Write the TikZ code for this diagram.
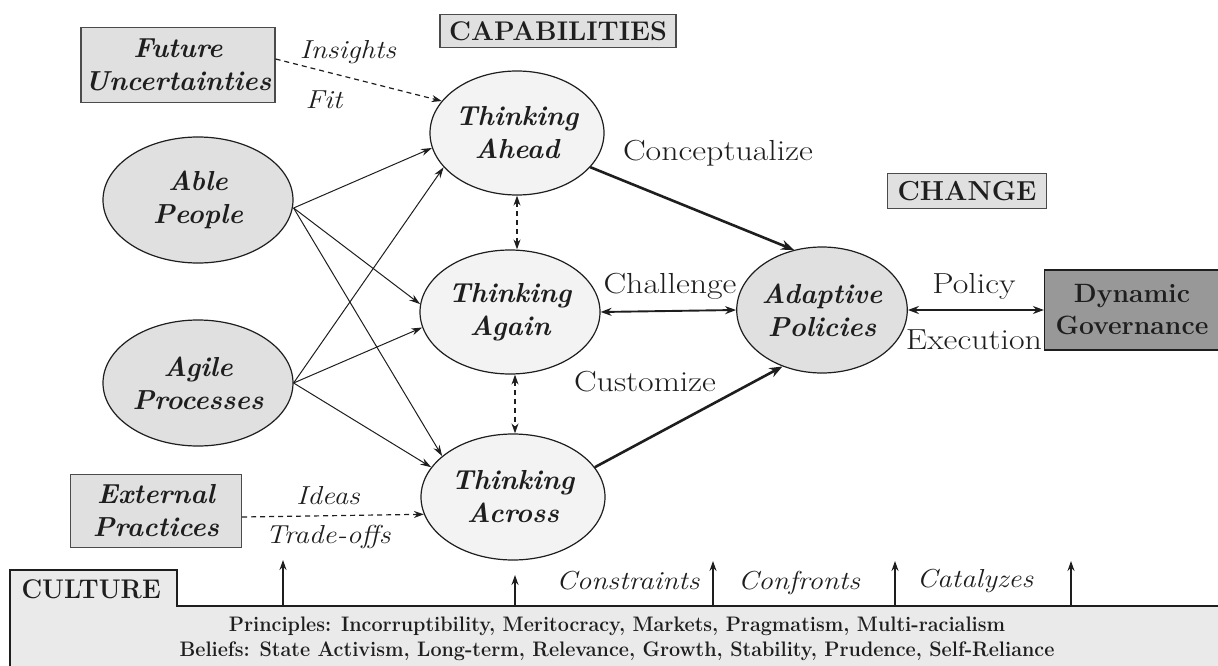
\documentclass[tikz,border=0pt]{standalone}
\usetikzlibrary{shapes.geometric,arrows.meta,calc}
\definecolor{boxgray}{HTML}{E0E0E0}
\definecolor{lightfill}{HTML}{F3F3F3}
\definecolor{darkfill}{HTML}{989898}
\definecolor{basefill}{HTML}{EAEAEA}
\definecolor{ink}{HTML}{1E1E1E}
\newcommand{\wideR}[1]{\scalebox{1.17}[1]{#1}}
\newcommand{\wideI}[1]{\scalebox{1.12}[1]{#1}}
\newcommand{\narrowB}[1]{\scalebox{0.94}[1]{#1}}
\begin{document}
\begin{tikzpicture}[x=1pt,y=-1pt,
  every node/.style={text=ink},
  heavy/.style={font=\fontsize{27.5}{33}\selectfont\bfseries\itshape, align=center},
  ovalA/.style={ellipse, draw=ink, line width=1.2pt, fill=boxgray, inner sep=0pt, heavy},
  ovalB/.style={ellipse, draw=ink, line width=1.2pt, fill=lightfill, inner sep=0pt, heavy},
  gbox/.style={rectangle, draw=ink!80, line width=1.2pt, fill=boxgray, inner sep=0pt},
  lbl/.style={font=\fontsize{29}{32}\selectfont},
  ilbl/.style={font=\fontsize{26}{29}\selectfont\itshape},
  thin/.style={draw=ink, line width=1pt, -{Stealth[length=11pt,width=7pt]}},
  thick/.style={draw=ink, line width=2.6pt, -{Stealth[length=13pt,width=10pt]}},
  both/.style={draw=ink, line width=1.9pt, {Stealth[length=11pt,width=8pt]}-{Stealth[length=11pt,width=8pt]}},
  dash1/.style={draw=ink, line width=1.2pt, dash pattern=on 5pt off 4pt, -{Stealth[length=10pt,width=7pt]}},
  dash2/.style={draw=ink, line width=1.2pt, dash pattern=on 5pt off 4pt, {Stealth[length=10pt,width=7pt]}-{Stealth[length=10pt,width=7pt]}},
  uparrow/.style={draw=ink, line width=1.8pt, -{Stealth[length=10pt,width=7pt]}},
]
\useasboundingbox (0,0) rectangle (1218,666);

% culture base
\path[fill=basefill, draw=ink, line width=1.2pt] (10,668) -- (10,570) -- (177,570) -- (177,606) -- (1220,606) -- (1220,668) -- cycle;
\node[font=\fontsize{27}{30}\selectfont\bfseries, anchor=west] (culture) at (18,589) {\narrowB{CULTURE}};
\node[font=\fontsize{21}{24}\selectfont\bfseries] (principles) at (617,626) {\scalebox{0.94}[1]{Principles: Incorruptibility, Meritocracy, Markets, Pragmatism, Multi-racialism}};
\node[font=\fontsize{21}{24}\selectfont\bfseries] (beliefs) at (617,651) {\scalebox{0.94}[1]{Beliefs: State Activism, Long-term, Relevance, Growth, Stability, Prudence, Self-Reliance}};

% header boxes
\node[gbox, minimum width=236pt, minimum height=33pt, font=\fontsize{27}{30}\selectfont\bfseries] (cap) at (558,31) {CAPABILITIES};
\node[gbox, minimum width=159pt, minimum height=35pt, font=\fontsize{27.5}{30}\selectfont\bfseries] (change) at (967,191) {CHANGE};
\node[gbox, minimum width=194pt, minimum height=75pt, heavy] (future) at (178,65) {Future\\Uncertainties};
\node[gbox, minimum width=171pt, minimum height=73pt, heavy] (external) at (156,511) {External\\Practices};
\node[rectangle, draw=ink, line width=1.2pt, fill=darkfill, minimum width=175pt, minimum height=80pt, inner sep=0pt,
      font=\fontsize{26.5}{32}\selectfont\bfseries, align=center] (dyn) at (1132,310) {Dynamic\\Governance};

% ovals
\node[ovalA, minimum width=190pt, minimum height=126pt] (able) at (198,200) {Able\\People};
\node[ovalA, minimum width=190pt, minimum height=126pt] (agile) at (198,383) {Agile\\Processes};
\node[ovalB, minimum width=174pt, minimum height=124pt] (ahead) at (517,133) {Thinking\\Ahead};
\node[ovalB, minimum width=180pt, minimum height=124pt] (again) at (510,312) {Thinking\\Again};
\node[ovalB, minimum width=184pt, minimum height=126pt] (across) at (513,497) {Thinking\\Across};
\node[ovalA, minimum width=168pt, minimum height=126pt] (adapt) at (822,310) {Adaptive\\Policies};

% thin arrows
\coordinate (ao) at ($(able.east)+(0,8)$);
\coordinate (go) at (agile.east);
\draw[thin] (ao) -- (ahead.190);
\draw[thin] (ao) -- (again.175);
\draw[thin] (ao) -- (across.150);
\draw[thin] (go) -- (ahead.205);
\draw[thin] (go) -- (again.190);
\draw[thin] (go) -- (across.160);

% dashed
\draw[dash1] ($(future.east)+(0,-6)$) -- (ahead.157);
\draw[dash1] ($(external.east)+(0,6)$) -- (across.191);
\draw[dash2] (ahead.south) -- (again.north -| ahead.south);
\draw[dash2] ($(again.south)+(5,0)$) -- ($(across.north)+(2,0)$);

% thick
\draw[thick] (ahead.335) -- (adapt.115);
\draw[thick] (across.20) -- (adapt.235);
\draw[both] (again.east) -- (adapt.west);
\draw[both] (adapt.east) -- (dyn.west);

% labels
\node[ilbl] (insights) at (348,52) {\wideI{Insights}};
\node[ilbl] (fit) at (324,100) {\wideI{Fit}};
\node[ilbl] (ideas) at (328,496) {\wideI{Ideas}};
\node[ilbl] (tradeoffs) at (328,537) {\wideI{Trade-offs}};
\node[lbl] (concept) at (718,153) {\wideR{Conceptualize}};
\node[lbl] (challenge) at (670,286) {\wideR{Challenge}};
\node[lbl] (customize) at (645,382) {\wideR{Customize}};
\node[lbl] (policy) at (974,286) {\wideR{Policy}};
\node[lbl] (execution) at (974,340) {\wideR{Execution}};
\node[ilbl] (constraints) at (628,581) {\wideI{Constraints}};
\node[ilbl] (confronts) at (799,583) {\wideI{Confronts}};
\node[ilbl] (catalyzes) at (975,581) {\wideI{Catalyzes}};

% culture arrows
\coordinate (c1) at (283,606); \coordinate (t1) at (283,560);
\coordinate (c2) at (515,606); \coordinate (t2) at (515,575);
\coordinate (c3) at (713,606); \coordinate (t3) at (713,561);
\coordinate (c4) at (895,606); \coordinate (t4) at (895,561);
\coordinate (c5) at (1071,606); \coordinate (t5) at (1071,561);
\foreach \i in {1,...,5} {\draw[uparrow] (c\i) -- (t\i);}
\end{tikzpicture}
\end{document}
